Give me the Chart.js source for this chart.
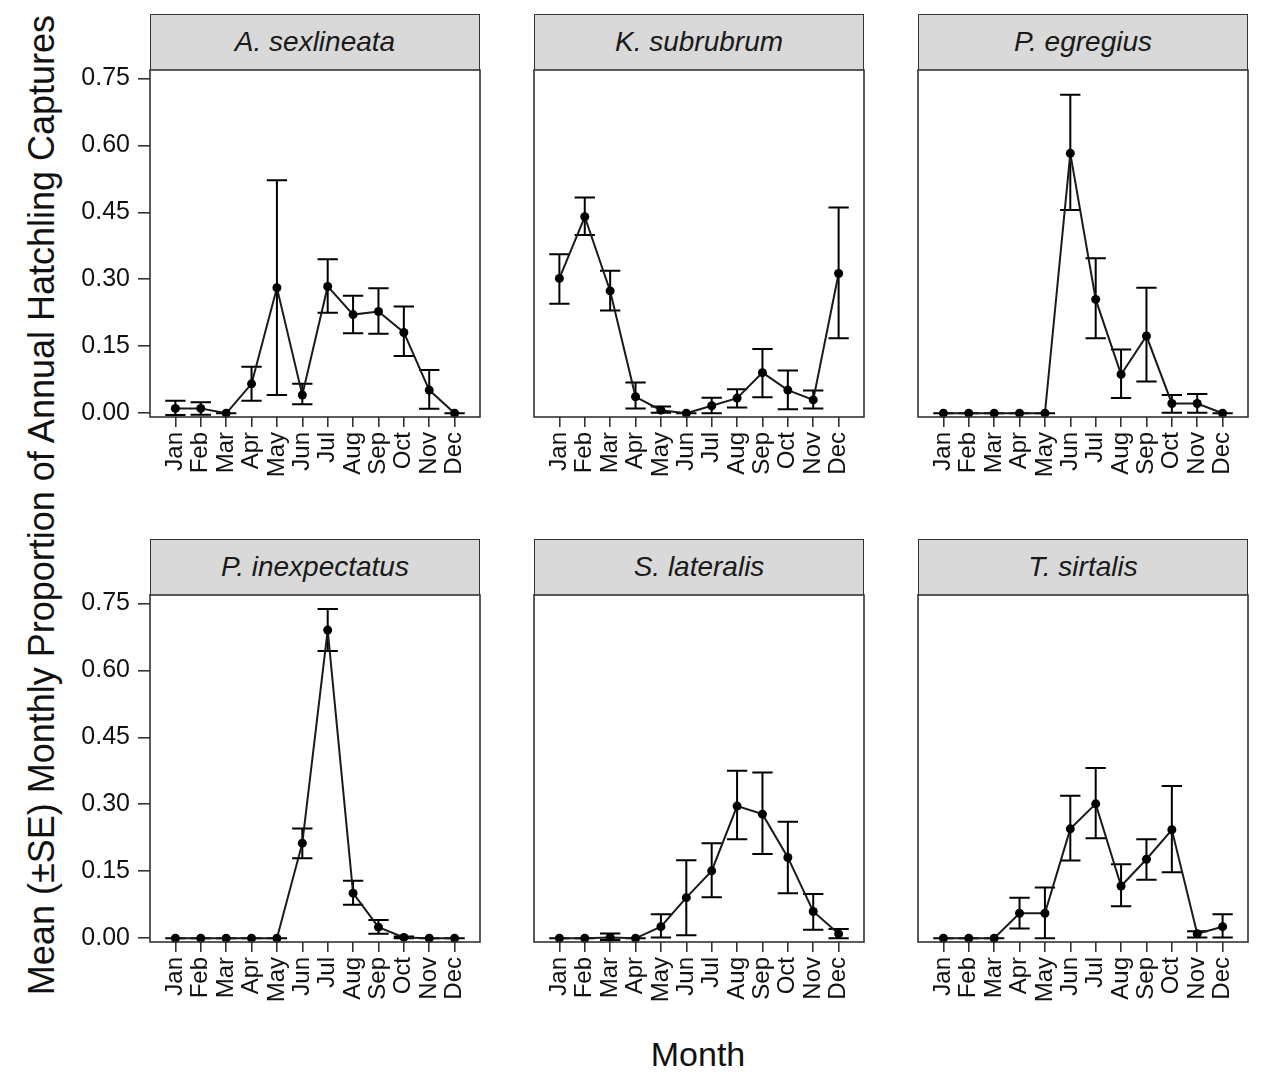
<!DOCTYPE html>
<html>
<head>
<meta charset="utf-8">
<script src="https://cdn.jsdelivr.net/npm/chart.js@4.4.1/dist/chart.umd.min.js"></script>
<style>
  body { margin: 0; background: #fff; }
  #wrap { position: relative; width: 1264px; height: 1074px; overflow: hidden; font-family: "Liberation Sans", Arial, sans-serif; }
  #wrap canvas { position: absolute; left: 0; top: 0; }
  .strip { position: absolute; box-sizing: border-box; background: #d9d9d9; border: 1.5px solid #333; border-bottom: none;
           font-style: italic; font-size: 28px; color: #1a1a1a; text-align: center; }
  .title { position: absolute; color: #111; text-align: center; white-space: nowrap; }
</style>
</head>
<body>
<div id="wrap">
  <div class="title" style="left:-458px; top:485px; width:1000px; height:40px; line-height:40px; font-size:36px; transform:rotate(-90deg);">Mean (±SE) Monthly Proportion of Annual Hatchling Captures</div>
  <div class="title" style="left:598px; top:1034px; width:200px; height:40px; line-height:40px; font-size:34px;">Month</div>
</div>
<script>
// months
const months = ['Jan', 'Feb', 'Mar', 'Apr', 'May', 'Jun', 'Jul', 'Aug', 'Sep', 'Oct', 'Nov', 'Dec'];
const yTicks = [0, 0.15, 0.30, 0.45, 0.60, 0.75];

// A. sexlineata
const sexMean  = [0.011, 0.011, 0, 0.066, 0.281, 0.041, 0.284, 0.221, 0.228, 0.181, 0.052, 0];
const sexUpper = [0.028, 0.025, 0, 0.104, 0.522, 0.066, 0.345, 0.263, 0.280, 0.239, 0.097, 0];
const sexLower = [-0.004, -0.003, 0, 0.028, 0.041, 0.020, 0.225, 0.179, 0.178, 0.128, 0.010, 0];

// K. subrubrum
const subMean  = [0.302, 0.440, 0.274, 0.037, 0.007, 0, 0.017, 0.034, 0.091, 0.052, 0.030, 0.313];
const subUpper = [0.356, 0.483, 0.319, 0.069, 0.015, 0, 0.035, 0.054, 0.144, 0.096, 0.051, 0.461];
const subLower = [0.245, 0.399, 0.230, 0.011, 0.001, 0, 0.000, 0.013, 0.036, 0.009, 0.011, 0.168];

// P. egregius
const egrMean  = [0, 0, 0, 0, 0, 0.582, 0.255, 0.087, 0.173, 0.022, 0.022, 0];
const egrUpper = [0, 0, 0, 0, 0, 0.713, 0.347, 0.143, 0.281, 0.041, 0.043, 0];
const egrLower = [0, 0, 0, 0, 0, 0.455, 0.168, 0.034, 0.071, 0.001, 0.001, 0];

// P. inexpectatus
const inexMean  = [0, 0, 0, 0, 0, 0.213, 0.690, 0.101, 0.025, 0.002, 0, 0];
const inexUpper = [0, 0, 0, 0, 0, 0.246, 0.737, 0.129, 0.041, 0.004, 0, 0];
const inexLower = [0, 0, 0, 0, 0, 0.179, 0.643, 0.075, 0.010, 0.000, 0, 0];

// S. lateralis
const latMean  = [0, 0, 0.002, 0, 0.026, 0.091, 0.151, 0.296, 0.278, 0.181, 0.060, 0.010];
const latUpper = [0, 0, 0.011, 0, 0.054, 0.175, 0.213, 0.375, 0.371, 0.261, 0.099, 0.021];
const latLower = [0, 0, -0.004, 0, 0.002, 0.007, 0.092, 0.222, 0.189, 0.101, 0.019, 0.000];

// T. sirtalis
const sirMean  = [0, 0, 0, 0.056, 0.056, 0.245, 0.301, 0.117, 0.177, 0.243, 0.010, 0.026];
const sirUpper = [0, 0, 0, 0.091, 0.114, 0.319, 0.381, 0.166, 0.222, 0.341, 0.016, 0.054];
const sirLower = [0, 0, 0, 0.022, 0.000, 0.174, 0.224, 0.072, 0.131, 0.148, 0.002, 0.002];

const panels = [
    { name: 'A. sexlineata',    mean: sexMean,  upper: sexUpper,  lower: sexLower,  col: 0, row: 0 },
    { name: 'K. subrubrum',     mean: subMean,  upper: subUpper,  lower: subLower,  col: 1, row: 0 },
    { name: 'P. egregius',      mean: egrMean,  upper: egrUpper,  lower: egrLower,  col: 2, row: 0 },
    { name: 'P. inexpectatus',  mean: inexMean, upper: inexUpper, lower: inexLower, col: 0, row: 1 },
    { name: 'S. lateralis',     mean: latMean,  upper: latUpper,  lower: latLower,  col: 1, row: 1 },
    { name: 'T. sirtalis',      mean: sirMean,  upper: sirUpper,  lower: sirLower,  col: 2, row: 1 }
];

// panel boxes (plot areas) in page pixels
const colLeft = [150, 534, 918];
const plotWidth = 330;
const rowTop = [70, 595];
const plotHeight = 347;
const stripHeight = 56;
const W = 1264, H = 1074;
const yAxisWidth = 80, xAxisHeight = 100;

const errorBars = {
    id: 'errorBars',
    beforeDatasetsDraw(chart) {
        const ctx = chart.ctx;
        const xs = chart.scales.x, ys = chart.scales.y;
        const ds = chart.data.datasets[0];
        ctx.save();
        ctx.strokeStyle = '#000';
        ctx.lineWidth = 2;
        ds.lower.forEach((lo, i) => {
            const hi = ds.upper[i];
            const px = xs.getPixelForValue(i);
            const x0 = xs.getPixelForValue(i - 0.4);
            const x1 = xs.getPixelForValue(i + 0.4);
            const y0 = ys.getPixelForValue(lo);
            const y1 = ys.getPixelForValue(hi);
            ctx.beginPath();
            ctx.moveTo(px, y0); ctx.lineTo(px, y1);
            ctx.moveTo(x0, y0); ctx.lineTo(x1, y0);
            ctx.moveTo(x0, y1); ctx.lineTo(x1, y1);
            ctx.stroke();
        });
        ctx.restore();
    },
    afterDraw(chart) {
        const a = chart.chartArea;
        const ctx = chart.ctx;
        ctx.save();
        ctx.strokeStyle = '#333';
        ctx.lineWidth = 1.6;
        ctx.strokeRect(a.left, a.top, a.right - a.left, a.bottom - a.top);
        ctx.restore();
    }
};

const wrap = document.getElementById('wrap');

panels.forEach(p => {
    const left = colLeft[p.col];
    const top = rowTop[p.row];
    const showY = p.col === 0;

    const strip = document.createElement('div');
    strip.className = 'strip';
    strip.style.left = left + 'px';
    strip.style.top = (top - stripHeight) + 'px';
    strip.style.width = plotWidth + 'px';
    strip.style.height = stripHeight + 'px';
    strip.style.lineHeight = (stripHeight - 2) + 'px';
    strip.textContent = p.name;
    wrap.appendChild(strip);

    const canvas = document.createElement('canvas');
    canvas.width = W;
    canvas.height = H;
    wrap.appendChild(canvas);

    new Chart(canvas.getContext('2d'), {
        type: 'line',
        data: {
            datasets: [{
                data: p.mean.map((v, i) => ({ x: i, y: v })),
                upper: p.upper,
                lower: p.lower,
                borderColor: '#1a1a1a',
                borderWidth: 2,
                pointRadius: 4.5,
                pointBackgroundColor: '#000',
                pointBorderColor: '#000',
                pointBorderWidth: 0,
                tension: 0,
                clip: false
            }]
        },
        options: {
            responsive: false,
            animation: false,
            events: [],
            layout: {
                padding: {
                    left: showY ? left - yAxisWidth : left,
                    right: W - left - plotWidth,
                    top: top,
                    bottom: H - top - plotHeight - xAxisHeight
                }
            },
            plugins: { legend: { display: false }, tooltip: { enabled: false } },
            scales: {
                x: {
                    type: 'linear',
                    min: -1,
                    max: 12,
                    afterBuildTicks: s => { s.ticks = months.map((m, i) => ({ value: i })); },
                    afterFit: s => { s.height = xAxisHeight; s.paddingLeft = 0; s.paddingRight = 0; },
                    grid: { drawOnChartArea: false, drawTicks: true, tickLength: 10, color: '#333', lineWidth: 1.6 },
                    border: { display: false },
                    ticks: {
                        autoSkip: false,
                        minRotation: 90,
                        maxRotation: 90,
                        padding: 5,
                        color: '#111',
                        font: { family: '"Liberation Sans", Arial, sans-serif', size: 24 },
                        callback: v => months[v]
                    }
                },
                y: {
                    display: showY,
                    min: -0.0083,
                    max: 0.7686,
                    afterBuildTicks: s => { s.ticks = yTicks.map(v => ({ value: v })); },
                    afterFit: s => { s.width = showY ? yAxisWidth : 0; s.paddingTop = 0; s.paddingBottom = 0; },
                    grid: { drawOnChartArea: false, drawTicks: true, tickLength: 12, color: '#333', lineWidth: 1.6 },
                    border: { display: false },
                    ticks: {
                        padding: 8,
                        color: '#111',
                        font: { family: '"Liberation Sans", Arial, sans-serif', size: 25 },
                        callback: v => v.toFixed(2)
                    }
                }
            }
        },
        plugins: [errorBars]
    });
});
</script>
</body>
</html>
